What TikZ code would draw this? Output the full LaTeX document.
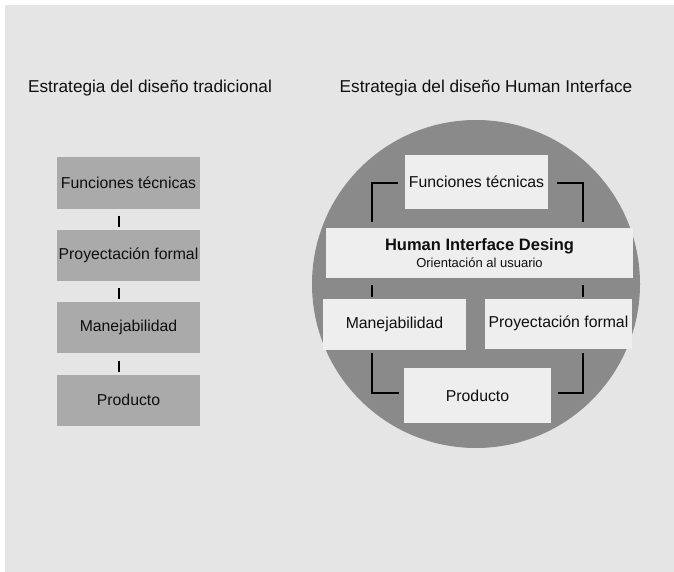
\documentclass[tikz,border=0pt]{standalone}
\usepackage{fontspec}
\setmainfont{Liberation Sans}
\definecolor{pagegray}{RGB}{229,229,229}
\definecolor{boxgray}{RGB}{170,170,170}
\definecolor{ringgray}{RGB}{138,138,138}
\definecolor{paleface}{RGB}{238,238,238}
\definecolor{inkgray}{RGB}{15,15,15}
\tikzstyle{title} = [text=inkgray, font=\fontsize{17.2}{20}\selectfont]
\tikzstyle{oldstep} = [rectangle, minimum width=143pt, minimum height=51pt, inner sep=0pt, text centered, text=inkgray, fill=boxgray, font=\fontsize{15.8}{19}\selectfont]
\tikzstyle{hidbox} = [rectangle, inner sep=0pt, text centered, text=inkgray, fill=paleface, font=\fontsize{15.8}{19}\selectfont]
\tikzstyle{link} = [line width=2.8pt, draw=black, shorten <=7pt, shorten >=3pt]
\tikzstyle{bracket} = [line width=2.8pt, draw=black]

\begin{document}
\begin{tikzpicture}[x=1pt, y=-1pt, node distance=72.4pt]
\fill [white] (0,0) rectangle (674,572);
\fill [pagegray] (5,5) rectangle (674,572);
\useasboundingbox (0,0) rectangle (674,572);
% traditional strategy
\node (tit1) [title] at (150,88) {Estrategia del diseño tradicional};
\node (fun1) [oldstep] at (128.5,183) {Funciones técnicas};
\node (pro1) [oldstep, below of=fun1] {Proyectación formal};
\node (man1) [oldstep, below of=pro1] {Manejabilidad};
\node (prd1) [oldstep, below of=man1] {Producto};
\draw [link] ([xshift=-9.5pt]fun1.south) -- ([xshift=-9.5pt]pro1.north);
\draw [link] ([xshift=-9.5pt]pro1.south) -- ([xshift=-9.5pt]man1.north);
\draw [link] ([xshift=-9.5pt]man1.south) -- ([xshift=-9.5pt]prd1.north);
% human interface strategy
\node (tit2) [title] at (486,88) {Estrategia del diseño Human Interface};
\node (ring) [circle, fill=ringgray, minimum size=328pt] at (476,284) {};
\draw [bracket] (398,183) -| (372,222);
\draw [bracket] (557,183) -| (583,222);
\draw [bracket] (372,285) -- (372,297);
\draw [bracket] (583,285) -- (583,297);
\draw [bracket] (372,353) |- (399,393);
\draw [bracket] (583,353) |- (558,393);
\node (fun2) [hidbox, minimum width=143pt, minimum height=54pt] at (476.5,182) {Funciones técnicas};
\node (hid) [hidbox, minimum width=307pt, minimum height=50pt, align=center] at (479.5,253)
  {\fontsize{16.5}{18}\selectfont\bfseries Human Interface Desing\\[-2pt]{\fontsize{13}{15}\selectfont Orientación al usuario}};
\node (man2) [hidbox, minimum width=143pt, minimum height=51pt] at (394.5,324.5) {Manejabilidad};
\node (pro2) [hidbox, minimum width=147pt, minimum height=50pt] at (558.5,323.5) {Proyectación formal};
\node (prd2) [hidbox, minimum width=147pt, minimum height=55pt] at (477.5,395.5) {Producto};
\end{tikzpicture}
\end{document}
